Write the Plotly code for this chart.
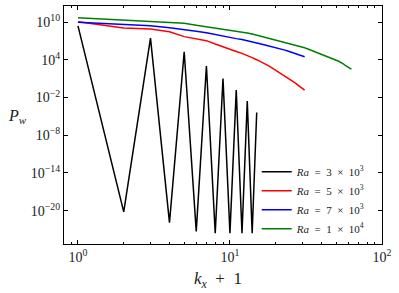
import plotly.graph_objects as go

# x values: k_x + 1
x_black = list(range(1, 16))
x_red = list(range(1, 32))
x_blue = list(range(1, 32))
x_green = list(range(1, 64))

# log10(P_w)
log_black = [9.4, -20.2, 7.45, -21.9, 5.27, -23.3, 3.0, -23.6, 1.03, -23.6,
             -0.83, -23.6, -2.58, -23.6, -4.4]
log_red = [10.05, 9.05, 8.88, 8.45, 7.68, 7.35, 7.04, 6.5, 6.03, 5.65,
           5.32, 5.02, 4.72, 4.34, 4.01, 3.71, 3.42, 3.04, 2.68, 2.34,
           2.02, 1.72, 1.43, 1.15, 0.88, 0.58, 0.27, -0.03, -0.32, -0.6, -0.83]
log_blue = [9.95, 9.59, 9.4, 9.1, 8.85, 8.55, 8.31, 8.0, 7.73, 7.53,
            7.36, 7.21, 7.04, 6.85, 6.67, 6.5, 6.34, 6.21, 6.08, 5.96,
            5.84, 5.7, 5.53, 5.38, 5.23, 5.09, 4.95, 4.82, 4.69, 4.57, 4.47]
log_green = [10.68, 10.35, 10.16, 9.95, 9.8, 9.5, 9.27, 9.06, 8.88, 8.72,
             8.57, 8.43, 8.27, 8.09, 7.9, 7.75, 7.6, 7.46, 7.33, 7.2,
             7.08, 6.96, 6.83, 6.7, 6.58, 6.48, 6.38, 6.28, 6.18, 6.05,
             5.92, 5.78, 5.66, 5.53, 5.42, 5.3, 5.2, 5.1, 5.01, 4.9,
             4.8, 4.7, 4.6, 4.5, 4.4, 4.3, 4.2, 4.12, 4.02, 3.94,
             3.85, 3.76, 3.67, 3.54, 3.41, 3.29, 3.16, 3.04, 2.92, 2.8,
             2.69, 2.6, 2.52]

names = ["<i>Ra</i>\u2002=\u20023\u2002×\u200210<sup>3</sup>",
         "<i>Ra</i>\u2002=\u20025\u2002×\u200210<sup>3</sup>",
         "<i>Ra</i>\u2002=\u20027\u2002×\u200210<sup>3</sup>",
         "<i>Ra</i>\u2002=\u20021\u2002×\u200210<sup>4</sup>"]
colors = ["#000000", "#ff0000", "#0000ff", "#008000"]

y_tickvals = [1e10, 1e4, 1e-2, 1e-8, 1e-14, 1e-20]
y_ticktext = ["10<sup>10</sup>", "10<sup>4</sup>", "10<sup>−2</sup>",
              "10<sup>−8</sup>", "10<sup>−14</sup>", "10<sup>−20</sup>"]
x_tickvals = [1, 10, 100]
x_ticktext = ["10<sup>0</sup>", "10<sup>1</sup>", "10<sup>2</sup>"]
x_minor = [0.9, 2, 3, 4, 5, 6, 7, 8, 9, 20, 30, 40, 50, 60, 70, 80, 90]

fig = go.Figure()
series = [(x_black, log_black), (x_red, log_red), (x_blue, log_blue), (x_green, log_green)]
for (xs, ls), nm, c in zip(series, names, colors):
    fig.add_trace(go.Scatter(x=xs, y=[10 ** v for v in ls], mode="lines",
                             name=nm, line=dict(color=c, width=1.5)))

font_family = "Liberation Serif, DejaVu Serif, serif"
fig.update_layout(
    template="none",
    width=399, height=293,
    margin=dict(l=64, r=17, t=6, b=49, autoexpand=False),
    paper_bgcolor="white", plot_bgcolor="white",
    font=dict(family=font_family, size=13, color="#222"),
    showlegend=True,
    legend=dict(x=0.606, y=0.365, xanchor="left", yanchor="top",
                bgcolor="rgba(0,0,0,0)", font=dict(size=11, family=font_family),
                tracegroupgap=0, borderwidth=0),
    xaxis=dict(type="log", range=[-0.092, 2.0005], showgrid=False, zeroline=False,
               automargin=False,
               showline=True, linecolor="black", linewidth=1.2, mirror="ticks",
               ticks="inside", ticklen=4, tickcolor="black",
               tickmode="array", tickvals=x_tickvals, ticktext=x_ticktext,
               minor=dict(tickvals=x_minor, ticks="inside", ticklen=2,
                          tickcolor="black", showgrid=False),
               tickfont=dict(size=14, family=font_family)),
    yaxis=dict(type="log", range=[-25.3, 12.55], showgrid=False, zeroline=False,
               automargin=False,
               showline=True, linecolor="black", linewidth=1.2, mirror="ticks",
               ticks="inside", ticklen=4, tickcolor="black",
               tickmode="array", tickvals=y_tickvals, ticktext=y_ticktext,
               tickfont=dict(size=14, family=font_family)),
    annotations=[
        dict(text="<i>k<sub>x</sub></i>\u2002+\u20021", x=0.485, y=-0.151, xref="paper",
             yref="paper", showarrow=False, xanchor="center", yanchor="middle",
             font=dict(size=17)),
        dict(text="<i>P<sub>w</sub></i>", x=-0.145, y=0.534, xref="paper",
             yref="paper", showarrow=False, xanchor="center", yanchor="middle",
             font=dict(size=16)),
    ],
)

fig.write_html("out.html", config={"displayModeBar": False},
               post_script="document.body.style.margin='0px';document.body.style.padding='0px';")
